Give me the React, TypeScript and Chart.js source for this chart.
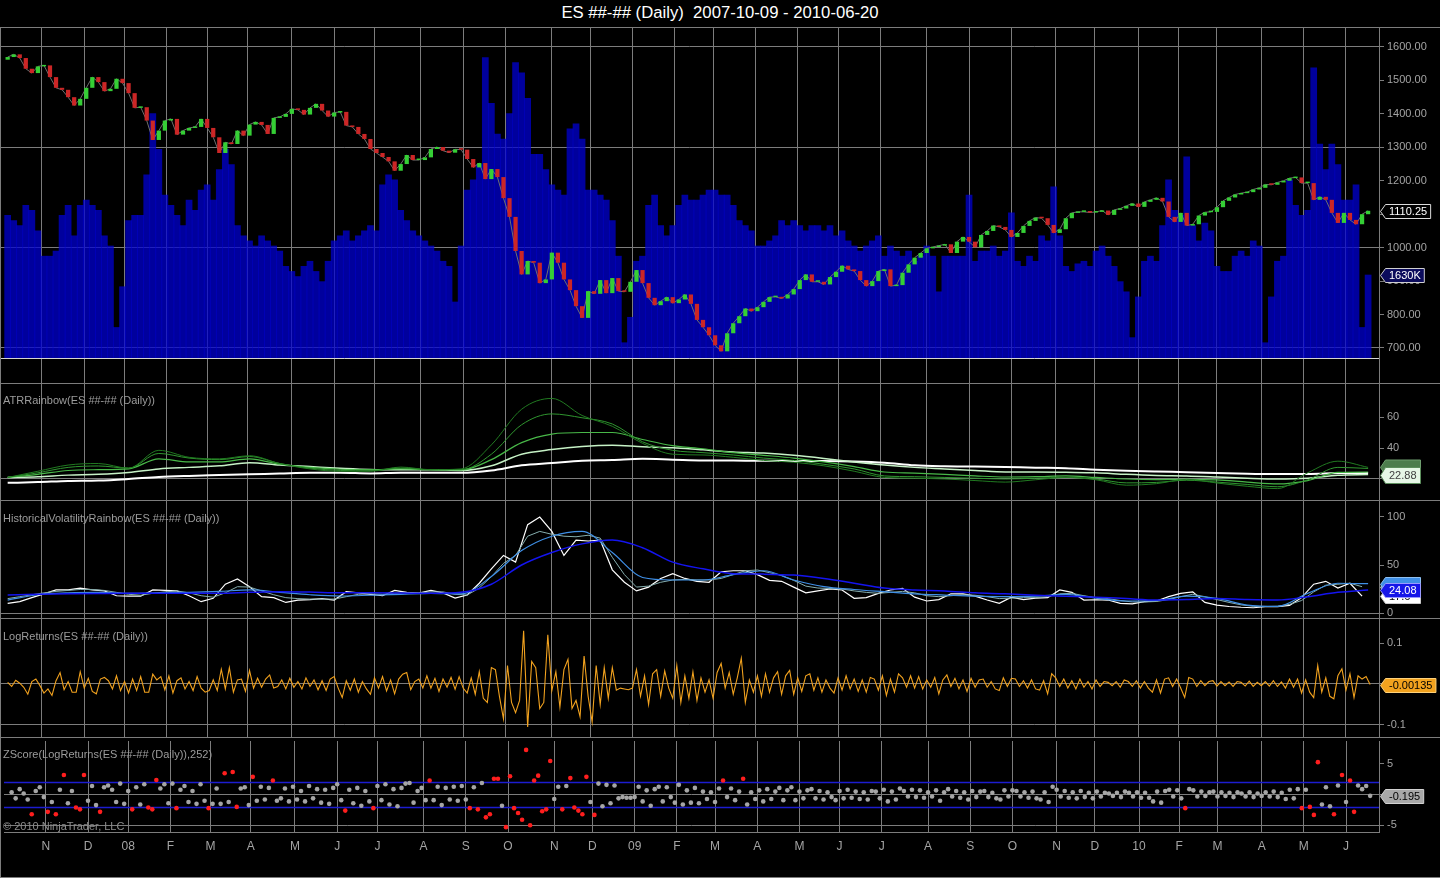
import React, { useEffect, useRef } from "react";
import { Chart, registerables } from "chart.js";

Chart.register(...registerables);

// ---------------- data ----------------
const TITLE = "ES ##-## (Daily)  2007-10-09 - 2010-06-20";

const monthLabels = ["N","D","08","F","M","A","M","J","J","A","S","O","N","D","09","F","M","A","M","J","J","A","S","O","N","D","10","F","M","A","M","J"];
// trading-day index of the first session of each month (day 0 = 2007-10-09)
const monthIdx = [17,38,58,79,99,119,141,162,182,205,226,247,270,289,310,331,350,371,392,412,433,456,477,498,520,539,561,581,600,622,643,664];

const STEP_P = 3;   // price / volume sampled every 3 sessions
const STEP_R = 2;   // returns / z-scores every 2 sessions
const STEP_HV = 6;  // fast volatility lines every 6 sessions
const STEP_S = 15;  // slow lines every 15 sessions

const FIRST_OPEN = 1562;
const closes = [
  1570,1578,1567,1535,1522,1542,1545,1510,1478,1472,
  1450,1425,1445,1478,1510,1495,1468,1475,1505,1492,
  1462,1418,1420,1380,1322,1350,1380,1385,1338,1350,
  1358,1361,1385,1358,1330,1283,1315,1310,1350,1335,
  1368,1376,1367,1340,1388,1391,1400,1415,1412,1398,
  1418,1430,1410,1392,1404,1406,1365,1361,1340,1325,
  1295,1283,1271,1258,1230,1250,1277,1262,1262,1270,
  1295,1301,1290,1284,1294,1293,1265,1240,1253,1205,
  1235,1211,1148,1092,990,920,960,955,894,905,
  985,955,905,873,825,790,870,862,903,864,
  909,870,868,898,933,894,850,828,840,852,
  834,845,860,832,784,762,738,708,690,744,
  774,795,818,810,822,838,852,853,848,860,
  876,903,920,898,898,890,912,928,946,935,
  930,903,885,900,930,935,885,888,925,950,
  970,984,998,1002,1006,1010,984,1018,1032,1018,
  1001,1038,1050,1066,1062,1053,1032,1044,1065,1080,
  1090,1088,1068,1044,1055,1088,1104,1107,1107,1105,
  1107,1111,1098,1113,1117,1125,1132,1122,1137,1143,
  1149,1138,1092,1077,1104,1066,1070,1096,1106,1107,
  1121,1140,1150,1159,1163,1166,1174,1179,1189,1188,
  1195,1200,1208,1210,1193,1193,1143,1152,1143,1104,
  1074,1104,1083,1070,1100,1110.25,
];

// volume in thousands of contracts
const volumesK = [
  2800,2700,2600,3000,2900,2500,2000,2000,2100,2800,
  3000,2400,3000,3100,3000,2900,2400,2200,600,1400,
  2700,2800,2800,3600,4800,4100,3200,3000,2800,2600,
  3100,2900,3300,3400,3100,3700,4100,3800,2600,2400,
  2300,2200,2400,2300,2200,2100,1800,1700,1600,1800,
  1900,1700,1500,1900,2300,2400,2500,2300,2400,2500,
  2600,2500,3400,3600,3500,2900,2700,2500,2400,2300,
  2200,2100,1900,1800,1100,2200,3300,3500,3800,5900,
  5000,4400,4300,4800,5800,5600,5100,4000,4000,3700,
  3400,3300,3200,4500,4600,4300,3300,3300,3200,3100,
  2700,2000,300,800,1900,2000,3000,3200,2600,2400,
  2600,3000,3200,3100,3100,3200,3300,3300,3200,3200,
  3000,2700,2600,2500,2200,2200,2300,2400,2700,2600,
  2700,2600,2500,2600,2600,2500,2600,2400,2500,2300,
  2200,2100,2200,2300,2400,2000,2200,2100,2000,2100,
  1900,2000,2200,2000,1300,2000,2000,2000,2000,3200,
  1900,2100,2100,2200,2000,2100,2850,1900,1800,2000,
  1900,2400,2300,3360,2400,1800,1700,1850,1900,1800,
  2100,2200,2000,1800,1500,1300,400,1200,1900,2000,
  1900,2600,3500,2900,2800,3950,2600,2300,2650,2500,
  1800,1700,1700,2000,2100,2000,2300,2200,300,1200,
  1900,2000,3500,3000,2800,2900,5700,4200,3700,4200,
  3800,3100,3100,3400,600,1630,
];

// ATR rainbow (fast -> slow)
const atr1 = [21,25,29,30,27,38.5,34,33,35,30,26.5,25,25,27.7,26,26.5,42,65,72,61,54,43,36,35.5,34,32,30.8,28.5,25,21,20.5,20,19,18,19.5,21,19.5,16,17,19.8,17.4,15.3,13.8,24,31.5,27.5];
const atr2 = [21,24,27.5,28.4,27,36.5,33.5,32.5,34.5,30,27,25.5,25.3,27,26,26,36,55,62,59.5,55.5,44,38.5,37,35.5,33.5,32,29.5,26.5,22,21.5,21,20.5,20,20.5,21,20,17.5,17.8,19.2,18,16.5,15,19.5,27.5,26.8];
const atr3 = [21,23,25.5,26,26.5,33,31,31,33,29.5,27.5,26.3,26,26.5,26,25.8,32.5,43.5,49,50,50,45.5,41.5,39.5,37,35.3,33.5,31,28,24.5,23.8,23,22,21.3,21.5,22,21,20,19.6,19.8,19.4,18,16.8,19,24.3,24.5];
const atr4 = [21,21.5,22.5,23,24.2,26.5,27.5,28.5,30.5,29,28,27,26.2,26,26,25.5,28.5,36,39,41,41.8,40.8,40.2,38.8,37.5,36.7,35.3,33.3,31,29,27.5,26.5,25.5,24.5,24.5,24.3,24,23,22.3,22,21.3,20.5,20,20.5,22.4,22.88];
const atr5 = [17.5,18,18.7,19,20,21.3,22,22.5,23,23.5,24,24,23.6,24,24,24,25.5,28.8,30.3,31.8,32.3,33,32.5,32,32,31.7,31.6,31.6,31.3,30.5,28.8,28.2,28,27.7,27.3,27,26,25.3,24.8,24.4,23.9,23.4,23.2,23.2,23.8,23.9];

// Historical volatility rainbow
const hvFast = [
  10,11.8,16,20,24,24,26,24,23,18,
  17.5,17.5,24,23.5,23,18,11.8,15.3,30,35.5,
  27.4,17,16,11,13.5,14,15,13.5,22.2,21,
  19.5,18,23.5,21.5,20.8,23.5,21,15.5,18.7,31,
  46,60,53,92,100,85,60,76,75,76,
  45,32,23,27,36,41,36,33,32,43,
  44,44,40,34,33,27,21,23,25,24,
  15.3,16,20.5,24,25.7,16.5,12.5,14,20,20,
  17.5,13.5,10,16.5,14,15.5,16,24,21.5,13.5,
  13.8,13.5,10,9.5,11.8,12.5,17,20.5,22,11,
  8.3,6.8,6,5.5,6.5,6.6,8,16,30,33,
  26,31,17.6,
];
const hvMid = [
  15,17,19,21,22.5,23.5,24.5,24.5,23.5,21.5,
  19.5,18.5,20.5,22,23,21,18,16.5,21,27.4,
  27,23,19,16,15,14.5,14.5,14.5,17,19.5,
  20,19.5,20.5,21,21,22,22,19.5,18.7,26,
  37.8,51.7,60,80,85,82,80,79.4,81,78,
  58,40,27,28,32,34.4,35,34.4,34.4,36,
  40,44,44.8,42,39,34,28,26,25.5,25,
  23,21.5,20.5,21.5,22.5,21,18,17,18,19,
  18.5,17,15,15.5,16,16,17,20,20.5,18,
  16,15,13,11.5,11.5,12,14,17,19.5,17,
  14,11,8.5,7,6.8,7,9,13,22,29,
  30,31,27.4,
];
const hvLight = [13.5,19,21,21.5,20.5,21,21.5,22.5,24,21.5,19,17.7,18.5,19.5,20.5,20,38,65,80,85,63,37,34.4,34.4,40,44,34.4,27.5,24.5,22.2,20,18.7,17.5,17,17.5,19.5,15.5,12.5,13,17.5,15.3,8.3,7,20.5,31,30.5];
const hvSlow = [18.7,19.5,20,20.3,20.5,20.5,20.5,20.5,21.5,22.2,21.8,21,21,20.8,20.5,21.5,30,50,63,72,76,68,53,46,41,40.5,39.5,36,31,26,24,23,21,20,18.5,17.5,16.5,15,13.5,14,15,14,13.5,17,21.5,24.08];

const logReturns = [
  0.004,-0.006,0.009,0.002,-0.008,-0.025,0.006,0.012,-0.004,-0.022,
  -0.012,-0.028,0.008,0.028,-0.014,0.006,-0.020,-0.020,0.030,-0.010,
  0.014,-0.018,-0.024,0.012,0.016,0.008,-0.012,0.020,-0.016,0.006,
  -0.022,0.012,-0.016,0.018,-0.020,-0.020,0.024,0.010,0.018,-0.014,
  0.020,-0.022,0.008,0.015,-0.012,0.006,-0.016,0.018,-0.010,-0.020,
  -0.016,0.010,-0.016,0.036,-0.012,0.040,-0.020,0.010,0.012,-0.018,
  0.033,-0.010,0.014,-0.008,0.012,0.022,-0.010,-0.006,0.010,-0.012,
  0.014,-0.008,0.006,-0.012,0.015,-0.006,0.010,-0.014,0.008,-0.016,
  0.012,0.018,-0.010,-0.033,0.008,-0.015,0.012,-0.020,0.006,-0.012,
  -0.025,0.015,-0.010,0.018,-0.017,0.010,-0.024,0.012,0.024,0.028,
  -0.014,0.006,0.012,-0.010,0.020,-0.010,0.014,-0.018,0.012,-0.008,
  0.016,-0.013,0.018,-0.010,-0.022,0.015,-0.025,0.030,-0.035,-0.045,
  0.040,0.035,-0.030,-0.085,0.045,-0.045,-0.070,-0.040,0.130,-0.105,
  0.055,0.040,-0.060,-0.045,0.120,-0.016,0.030,-0.056,0.035,0.060,
  -0.060,-0.040,-0.080,0.068,-0.030,-0.093,0.045,-0.050,0.040,-0.035,
  0.040,-0.015,-0.010,-0.012,-0.014,-0.010,0.035,-0.030,0.020,-0.050,
  0.025,0.035,-0.030,0.032,-0.010,-0.035,0.045,-0.045,0.020,-0.035,
  0.030,-0.040,0.015,-0.020,0.010,-0.035,0.028,0.050,-0.010,0.028,
  -0.025,0.015,0.063,-0.045,0.010,-0.020,0.020,-0.030,0.025,-0.020,
  0.015,0.030,-0.025,0.020,0.033,-0.025,0.015,-0.018,0.020,0.025,
  -0.015,0.015,-0.020,0.010,-0.010,-0.022,0.015,-0.015,0.020,-0.012,
  0.012,-0.018,0.010,-0.020,0.016,0.012,-0.015,0.020,-0.028,0.012,
  -0.020,0.025,0.015,-0.008,0.020,-0.010,0.018,-0.012,0.010,-0.008,
  0.016,-0.024,0.010,0.022,-0.006,0.014,-0.012,0.010,-0.018,0.014,
  -0.008,0.010,0.012,-0.008,0.006,-0.012,-0.016,0.015,-0.006,0.014,
  0.012,-0.006,0.008,-0.010,0.010,-0.012,-0.015,0.008,-0.024,0.025,
  0.015,-0.006,0.012,-0.010,0.008,-0.012,0.012,-0.008,0.006,-0.012,
  0.010,-0.006,0.006,0.004,-0.004,0.006,-0.008,0.010,0.006,-0.006,
  0.008,-0.010,0.006,-0.010,-0.020,0.010,-0.022,0.012,0.015,-0.006,
  0.012,-0.010,-0.033,0.016,0.012,-0.006,0.008,-0.004,0.006,0.008,
  -0.005,0.006,-0.004,0.005,-0.006,0.006,0.004,-0.005,0.007,-0.006,
  0.004,-0.004,0.006,-0.005,0.008,-0.006,0.005,-0.010,0.012,-0.008,
  0.012,-0.022,0.010,-0.020,-0.033,0.045,-0.020,0.015,-0.030,-0.036,
  0.020,0.037,-0.015,0.025,-0.033,0.020,0.012,0.018,-0.00135,
];

const zScores = [
  0.4,-0.6,0.9,0.2,-0.8,-3.2,0.6,1.2,-0.4,-2.8,
  -1.2,-3.2,0.8,3.2,-1.4,0.6,-2.1,-2.4,3.2,-1.0,
  1.4,-1.7,-2.8,1.2,1.5,0.8,-1.2,1.8,-1.5,0.6,
  -2.4,1.2,-1.6,1.7,-2.1,-2.4,2.4,1.0,1.7,-1.4,
  1.8,-2.2,0.8,1.4,-1.2,0.6,-1.5,1.7,-1.0,-2.2,
  -1.5,1.0,-1.5,3.5,-1.2,3.7,-2.0,1.0,1.2,-1.7,
  2.9,-1.0,1.3,-0.8,1.1,2.3,-1.0,-0.6,1.0,-1.1,
  1.3,-0.8,0.6,-1.1,1.4,-0.6,0.9,-1.3,0.8,-1.5,
  1.1,1.7,-0.9,-2.6,0.8,-1.4,1.1,-1.8,0.6,-1.1,
  -2.2,1.4,-0.9,1.7,-1.6,0.9,-1.9,1.1,1.8,1.9,
  -1.3,0.6,1.1,-0.9,2.3,-0.9,1.3,-1.7,1.1,-0.8,
  1.3,-1.0,1.4,-0.8,-2.2,1.2,-2.4,1.9,-3.7,-3.2,
  2.6,2.6,-1.8,-5.3,3.0,-2.2,-3.0,-4.1,7.3,-5.0,
  2.3,3.1,-2.7,-2.4,5.5,-0.7,1.3,-2.4,1.4,2.7,
  -2.1,-2.6,-3.2,2.9,-1.2,-3.3,1.8,-1.9,1.6,-1.4,
  1.5,-0.6,-0.4,-0.5,-0.5,-0.4,1.3,-1.1,0.7,-1.8,
  0.9,1.3,-1.1,1.2,-0.4,-1.3,1.6,-1.6,0.7,-1.3,
  1.1,-1.4,0.5,-0.7,0.4,-1.2,1.0,2.3,-0.4,1.0,
  -0.9,0.5,2.6,-1.6,0.4,-0.7,0.7,-1.1,0.9,-0.7,
  0.5,1.1,-0.9,0.7,1.2,-0.9,0.5,-0.6,0.7,0.9,
  -0.6,0.6,-0.8,0.4,-0.4,-0.9,0.6,-0.6,0.8,-0.5,
  0.5,-0.7,0.4,-0.8,0.6,0.5,-0.6,0.8,-1.1,0.5,
  -0.8,1.0,0.6,-0.3,0.8,-0.4,0.7,-0.5,0.4,-0.3,
  0.7,-1.0,0.4,0.9,-0.3,0.6,-0.5,0.4,-0.8,0.6,
  -0.4,0.5,0.6,-0.4,0.3,-0.6,-0.8,0.7,-0.3,0.7,
  0.6,-0.3,0.4,-0.5,0.5,-0.6,-0.8,0.4,-1.2,1.3,
  0.8,-0.3,0.6,-0.5,0.4,-0.6,0.6,-0.4,0.3,-0.6,
  0.5,-0.3,0.3,0.2,-0.2,0.3,-0.4,0.5,0.3,-0.3,
  0.4,-0.5,0.3,-0.5,-1.1,0.5,-1.3,0.6,0.8,-0.3,
  0.7,-0.6,-2.2,0.9,0.7,-0.3,0.5,-0.2,0.4,0.5,
  -0.3,0.4,-0.2,0.3,-0.4,0.4,0.2,-0.3,0.4,-0.4,
  0.2,-0.2,0.4,-0.3,0.5,-0.4,0.3,-0.7,0.8,-0.6,
  0.9,-2.2,0.8,-2.0,-3.3,5.3,-1.6,1.2,-1.9,-3.2,
  1.5,3.2,-1.2,2.3,-2.8,1.5,0.9,1.4,-0.195,
];
const zBands = [2, -2];
const Z_LIMIT = 2;

const priceTicks = [700, 800, 900, 1000, 1100, 1200, 1300, 1400, 1500, 1600];
const priceGrid = [700, 1000, 1300, 1600];
const atrTicks = [20, 40, 60];
const atrLabelled = [40, 60];
const atrGrid = [20];
const hvTicks = [0, 50, 100];
const hvGrid = [0];
const lrTicks = [-0.1, 0, 0.1];
const lrGrid = [0, -0.1];
const zTicks = [-5, 0, 5];
const zGrid = [0, -5];

// ---------------- layout / style ----------------
const W = 1440;
const AXIS_W = 61;
const X_MIN = -3.8;
const X_MAX = 680.4;
const X_AXIS_H = 46;
const GRID = "#7c7c7c";
const TXT = "#a4a4a4";
const FONT = 'Arial, "Liberation Sans", Helvetica, sans-serif';
const UP = "#35cf35";
const DOWN = "#cc2626";
const WICK = "#6f6f6f";
const VOL = "rgba(0,0,212,0.74)";

const PANELS = [
  { top: 27, h: 356 },
  { top: 383, h: 117 },
  { top: 500, h: 118 },
  { top: 618, h: 119 },
  { top: 737, h: 141 },
];

const pts = (arr: number[], step: number) => arr.map((v, i) => ({ x: i * step, y: v }));
const last = (arr: number[]) => arr[arr.length - 1];

function xScale(showLabels: boolean): any {
  return {
    type: "linear",
    position: "bottom",
    min: X_MIN,
    max: X_MAX,
    offset: false,
    afterBuildTicks: (s: any) => {
      s.ticks = monthIdx.map((v) => ({ value: v }));
    },
    afterFit: (s: any) => {
      s.paddingLeft = 0;
      s.paddingRight = 0;
      s.height = showLabels ? X_AXIS_H : 0;
    },
    grid: { color: GRID, lineWidth: 1, drawTicks: false, offset: false },
    border: { display: showLabels, color: GRID },
    ticks: {
      display: showLabels,
      color: TXT,
      font: { size: 12, family: FONT },
      padding: 7,
      autoSkip: false,
      maxRotation: 0,
      minRotation: 0,
      callback: (_v: any, i: number) => monthLabels[i],
    },
  };
}

function yScale(min: number, max: number, ticks: number[], grids: number[], fmt: (v: number) => string): any {
  return {
    type: "linear",
    position: "right",
    min,
    max,
    afterBuildTicks: (s: any) => {
      s.ticks = ticks.map((v) => ({ value: v }));
    },
    afterFit: (s: any) => {
      s.width = AXIS_W;
      s.paddingTop = 0;
      s.paddingBottom = 0;
    },
    grid: {
      color: (c: any) => (c.tick && grids.indexOf(c.tick.value) >= 0 ? GRID : "rgba(0,0,0,0)"),
      tickColor: GRID,
      tickLength: 5,
      lineWidth: 1,
    },
    border: { display: true, color: GRID },
    ticks: {
      color: TXT,
      font: { size: 11, family: FONT },
      padding: 3,
      autoSkip: false,
      callback: (v: any) => fmt(Number(v)),
    },
  };
}

function framePlugin(isLast: boolean): any {
  return {
    id: "frame",
    afterDraw(chart: any) {
      const { ctx, width, height } = chart;
      ctx.save();
      ctx.strokeStyle = GRID;
      ctx.lineWidth = 1;
      ctx.beginPath();
      ctx.moveTo(0, 0.5);
      ctx.lineTo(width, 0.5);
      ctx.moveTo(0.5, 0);
      ctx.lineTo(0.5, height);
      if (isLast) {
        ctx.moveTo(0, height - 0.5);
        ctx.lineTo(width, height - 0.5);
      }
      ctx.stroke();
      ctx.restore();
    },
  };
}

type VLabel = { scale: string; value: number; text: string; fill: string; stroke: string; color: string; h?: number };

function labelPlugin(items: VLabel[]): any {
  return {
    id: "valueLabels",
    afterDraw(chart: any) {
      const { ctx, chartArea } = chart;
      ctx.save();
      ctx.font = `11px ${FONT}`;
      ctx.textBaseline = "middle";
      ctx.textAlign = "left";
      for (const it of items) {
        const sc = chart.scales[it.scale];
        const y = Math.round(sc.getPixelForValue(it.value)) + 0.5;
        const h = it.h ?? 14;
        const x0 = chartArea.right + 1.5;
        const bx = x0 + 5;
        const bw = Math.max(ctx.measureText(it.text).width, 28) + 7;
        ctx.beginPath();
        ctx.moveTo(x0, y);
        ctx.lineTo(bx, y - h / 2);
        ctx.lineTo(bx + bw, y - h / 2);
        ctx.lineTo(bx + bw, y + h / 2);
        ctx.lineTo(bx, y + h / 2);
        ctx.closePath();
        ctx.fillStyle = it.fill;
        ctx.fill();
        ctx.strokeStyle = it.stroke;
        ctx.lineWidth = 1;
        ctx.stroke();
        if (it.text) {
          ctx.fillStyle = it.color;
          ctx.fillText(it.text, bx + 3.5, y + 0.5);
        }
      }
      ctx.restore();
    },
  };
}

const volumeBaseline: any = {
  id: "volBase",
  afterDatasetsDraw(chart: any) {
    const { ctx, chartArea, scales } = chart;
    const y = Math.round(scales.yv.getPixelForValue(0)) + 0.5;
    ctx.save();
    ctx.strokeStyle = "#d4d4d4";
    ctx.lineWidth = 1;
    ctx.beginPath();
    ctx.moveTo(chartArea.left, y);
    ctx.lineTo(chartArea.right, y);
    ctx.stroke();
    ctx.restore();
  },
};

const bandsPlugin: any = {
  id: "zBands",
  beforeDatasetsDraw(chart: any) {
    const { ctx, chartArea, scales } = chart;
    ctx.save();
    ctx.strokeStyle = "#1c1cd0";
    ctx.lineWidth = 1.5;
    for (const b of zBands) {
      const y = Math.round(scales.y.getPixelForValue(b)) + 0.5;
      ctx.beginPath();
      ctx.moveTo(chartArea.left, y);
      ctx.lineTo(chartArea.right, y);
      ctx.stroke();
    }
    ctx.restore();
  },
};

const common: any = {
  responsive: false,
  maintainAspectRatio: false,
  animation: false,
  events: [],
  layout: { padding: 0 },
  plugins: { legend: { display: false }, tooltip: { enabled: false }, title: { display: false } },
};

const line = (data: any[], color: string, width: number, smooth: boolean, extra: any = {}): any => ({
  type: "line",
  data,
  borderColor: color,
  borderWidth: width,
  pointRadius: 0,
  tension: 0,
  cubicInterpolationMode: smooth ? "monotone" : "default",
  fill: false,
  ...extra,
});

function buildConfigs(): any[] {
  const opens = [FIRST_OPEN, ...closes.slice(0, -1)];
  const candleColors = closes.map((c, i) => (c >= opens[i] ? UP : DOWN));
  const zColors = zScores.map((z) => (Math.abs(z) >= Z_LIMIT ? "#ff1e1e" : "#a6a6a6"));

  const c1 = {
    type: "bar",
    data: {
      datasets: [
        {
          type: "bar",
          label: "Volume",
          data: pts(volumesK, STEP_P),
          yAxisID: "yv",
          backgroundColor: VOL,
          borderWidth: 0,
          barPercentage: 1,
          categoryPercentage: 1,
          grouped: false,
          order: 3,
        },
        line(pts(closes, STEP_P), WICK, 1, false, { yAxisID: "y", order: 2 }),
        {
          type: "bar",
          label: "ES ##-##",
          data: closes.map((c, i) => ({ x: i * STEP_P, y: [opens[i], c] })),
          yAxisID: "y",
          backgroundColor: candleColors,
          borderWidth: 0,
          barPercentage: 0.7,
          categoryPercentage: 1,
          grouped: false,
          minBarLength: 1.5,
          order: 1,
        },
      ],
    },
    options: {
      ...common,
      scales: {
        x: xScale(false),
        y: yScale(595.3, 1659.8, priceTicks, priceGrid, (v) => v.toFixed(2)),
        yv: { type: "linear", display: false, min: -491, max: 6501 },
      },
    },
    plugins: [
      framePlugin(false),
      volumeBaseline,
      labelPlugin([
        { scale: "y", value: last(closes), text: last(closes).toFixed(2), fill: "#000000", stroke: "#dcdcdc", color: "#ffffff" },
        { scale: "yv", value: last(volumesK), text: `${last(volumesK)}K`, fill: "#0c0c5c", stroke: "#d0d0d0", color: "#ffffff" },
      ]),
    ],
  };

  const c2 = {
    type: "line",
    data: {
      datasets: [
        line(pts(atr1, STEP_S), "#217a21", 1, true),
        line(pts(atr2, STEP_S), "#2f962f", 1, true),
        line(pts(atr3, STEP_S), "#48b848", 1.2, true),
        line(pts(atr4, STEP_S), "#c6f2c6", 1.5, true),
        line(pts(atr5, STEP_S), "#ffffff", 2, true),
      ],
    },
    options: {
      ...common,
      scales: {
        x: xScale(false),
        y: yScale(6.45, 81.94, atrTicks, atrGrid, (v) => (atrLabelled.indexOf(v) >= 0 ? String(v) : "")),
      },
    },
    plugins: [
      framePlugin(false),
      labelPlugin([
        { scale: "y", value: last(atr1), text: "", fill: "#4d7d4d", stroke: "#6e9e6e", color: "#d8f0d8", h: 15 },
        { scale: "y", value: last(atr4), text: String(last(atr4)), fill: "#e6f7e6", stroke: "#5d8f5d", color: "#404040", h: 16 },
      ]),
    ],
  };

  const c3 = {
    type: "line",
    data: {
      datasets: [
        line(pts(hvSlow, STEP_S), "#1414f0", 1.5, true),
        line(pts(hvLight, STEP_S), "#3f8fe6", 1.2, true),
        line(pts(hvMid, STEP_HV), "#86aeae", 1, false),
        line(pts(hvFast, STEP_HV), "#ffffff", 1.2, false),
      ],
    },
    options: {
      ...common,
      scales: {
        x: xScale(false),
        y: yScale(-5.2, 117.7, hvTicks, hvGrid, (v) => String(v)),
      },
    },
    plugins: [
      framePlugin(false),
      labelPlugin([
        { scale: "y", value: last(hvMid), text: String(last(hvMid)), fill: "#86aeae", stroke: "#b0d0d0", color: "#000000" },
        { scale: "y", value: last(hvLight), text: "", fill: "#3f8fe6", stroke: "#8fc0f0", color: "#ffffff" },
        { scale: "y", value: last(hvFast), text: String(last(hvFast)), fill: "#ffffff", stroke: "#c8c8c8", color: "#000000" },
        { scale: "y", value: last(hvSlow), text: String(last(hvSlow)), fill: "#1616e8", stroke: "#9a9aff", color: "#ffffff" },
      ]),
    ],
  };

  const c4 = {
    type: "line",
    data: { datasets: [line(pts(logReturns, STEP_R), "#f2a21e", 1.1, false)] },
    options: {
      ...common,
      scales: {
        x: xScale(false),
        y: yScale(-0.1293, 0.161, lrTicks, lrGrid, (v) => String(v)),
      },
    },
    plugins: [
      framePlugin(false),
      labelPlugin([
        { scale: "y", value: last(logReturns), text: String(last(logReturns)), fill: "#f2a21e", stroke: "#ffd27a", color: "#000000" },
      ]),
    ],
  };

  const c5 = {
    type: "scatter",
    data: {
      datasets: [
        {
          type: "scatter",
          data: pts(zScores, STEP_R),
          pointRadius: 2.3,
          pointBackgroundColor: zColors,
          pointBorderWidth: 0,
          showLine: false,
        },
      ],
    },
    options: {
      ...common,
      scales: {
        x: xScale(true),
        y: yScale(-6.09, 8.75, zTicks, zGrid, (v) => String(v)),
      },
    },
    plugins: [
      framePlugin(true),
      bandsPlugin,
      labelPlugin([
        { scale: "y", value: last(zScores), text: String(last(zScores)), fill: "#a8a8a8", stroke: "#d2d2d2", color: "#000000" },
      ]),
    ],
  };

  return [c1, c2, c3, c4, c5];
}

const PANEL_TEXTS = [
  { text: "ATRRainbow(ES ##-## (Daily))", top: 393 },
  { text: "HistoricalVolatilityRainbow(ES ##-## (Daily))", top: 511 },
  { text: "LogReturns(ES ##-## (Daily))", top: 629 },
  { text: "ZScore(LogReturns(ES ##-## (Daily)),252)", top: 747 },
];
const COPYRIGHT = "© 2010 NinjaTrader, LLC";

export default function App() {
  const refs = [
    useRef<HTMLCanvasElement>(null),
    useRef<HTMLCanvasElement>(null),
    useRef<HTMLCanvasElement>(null),
    useRef<HTMLCanvasElement>(null),
    useRef<HTMLCanvasElement>(null),
  ];

  useEffect(() => {
    Chart.defaults.font.family = FONT;
    Chart.defaults.color = TXT;
    const cfgs = buildConfigs();
    const charts = cfgs.map((cfg, i) => new Chart(refs[i].current as HTMLCanvasElement, cfg));
    return () => charts.forEach((c) => c.destroy());
  }, []);

  return (
    <div
      style={{
        position: "absolute",
        left: 0,
        top: 0,
        width: W,
        height: 878,
        background: "#000",
        overflow: "hidden",
        fontFamily: FONT,
      }}
    >
      <div
        style={{
          position: "absolute",
          left: 0,
          top: 0,
          width: W,
          height: 27,
          lineHeight: "25px",
          textAlign: "center",
          color: "#ffffff",
          fontSize: 16.7,
          whiteSpace: "pre",
        }}
      >
        {TITLE}
      </div>
      {PANELS.map((p, i) => (
        <canvas
          key={i}
          ref={refs[i]}
          width={W}
          height={p.h}
          style={{ position: "absolute", left: 0, top: p.top, width: W, height: p.h, display: "block" }}
        />
      ))}
      {PANEL_TEXTS.map((t) => (
        <div
          key={t.text}
          style={{
            position: "absolute",
            left: 3,
            top: t.top,
            fontSize: 11,
            lineHeight: "14px",
            color: "#9c9c9c",
            whiteSpace: "pre",
            pointerEvents: "none",
          }}
        >
          {t.text}
        </div>
      ))}
      <div
        style={{
          position: "absolute",
          left: 3,
          top: 819,
          fontSize: 11,
          lineHeight: "14px",
          color: "#8c8c8c",
          whiteSpace: "pre",
          pointerEvents: "none",
        }}
      >
        {COPYRIGHT}
      </div>
    </div>
  );
}
